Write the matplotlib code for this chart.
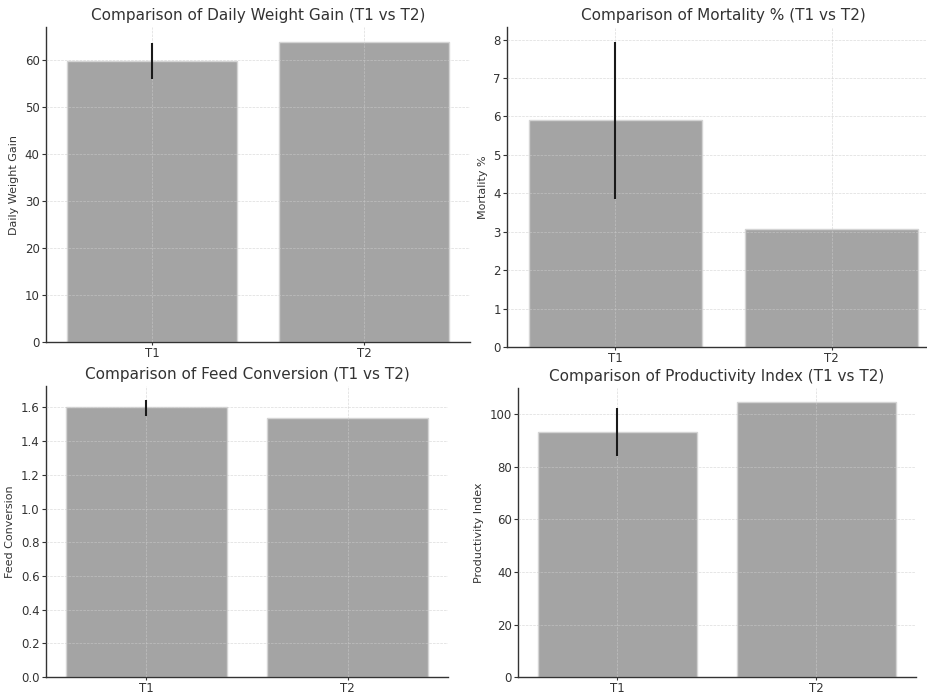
import matplotlib.pyplot as plt
import numpy as np

# treatment groups
groups = ["T1", "T2"]

# mean values per metric
weight_gain = [59.7, 63.8]
mortality = [5.9, 3.07]
feed_conv = [1.60, 1.54]
prod_index = [93.3, 104.7]

# error bar bounds (only T1 has spread)
weight_gain_lo = [56.0, 63.8]
weight_gain_hi = [63.5, 63.8]
mortality_lo = [3.85, 3.07]
mortality_hi = [7.93, 3.07]
feed_conv_lo = [1.55, 1.54]
feed_conv_hi = [1.645, 1.54]
prod_index_lo = [84.2, 104.7]
prod_index_hi = [102.2, 104.7]

titles = ["Comparison of Daily Weight Gain (T1 vs T2)",
          "Comparison of Mortality % (T1 vs T2)",
          "Comparison of Feed Conversion (T1 vs T2)",
          "Comparison of Productivity Index (T1 vs T2)"]
ylabels = ["Daily Weight Gain", "Mortality %", "Feed Conversion", "Productivity Index"]

plt.rcParams['font.family'] = 'DejaVu Sans'
plt.rcParams['text.color'] = '#333333'
plt.rcParams['axes.labelcolor'] = '#333333'
plt.rcParams['xtick.color'] = '#333333'
plt.rcParams['ytick.color'] = '#333333'

fig = plt.figure(figsize=(9.27, 6.96), dpi=100)
positions = [[0.0496, 0.5086, 0.4574, 0.4526],
             [0.547, 0.5014, 0.467, 0.4598],
             [0.0496, 0.0270, 0.4337, 0.4184],
             [0.5588, 0.0270, 0.4293, 0.4156]]

data = [(weight_gain, weight_gain_lo, weight_gain_hi),
        (mortality, mortality_lo, mortality_hi),
        (feed_conv, feed_conv_lo, feed_conv_hi),
        (prod_index, prod_index_lo, prod_index_hi)]

for i, (vals, lo, hi) in enumerate(data):
    ax = fig.add_axes(positions[i])
    x = np.arange(len(groups))
    ax.bar(x, vals, width=0.8, color='#a4a4a4', edgecolor='#d4d4d4', linewidth=1, zorder=2)
    ax.vlines(x, lo, hi, color='#1a1a1a', linewidth=1.5, zorder=4)
    ax.set_xticks(x)
    ax.set_xticklabels(groups)
    ax.set_xlim(-0.5, 1.5)
    ax.set_ylim(0, max(hi) * 1.05)
    ax.set_title(titles[i], fontsize=11, pad=5)
    ax.set_ylabel(ylabels[i], fontsize=8)
    ax.tick_params(labelsize=8.5, length=3, width=0.8, pad=1.5)
    ax.tick_params(axis='x', length=2.5, pad=1)
    ax.grid(True, linestyle='--', linewidth=0.5, color='#cccccc', alpha=0.7, zorder=3)
    ax.set_axisbelow(False)
    for s in ['top', 'right']:
        ax.spines[s].set_visible(False)
    for s in ['left', 'bottom']:
        ax.spines[s].set_color('#333333')
        ax.spines[s].set_linewidth(1.0)

fig.savefig("out.png", dpi=100)
